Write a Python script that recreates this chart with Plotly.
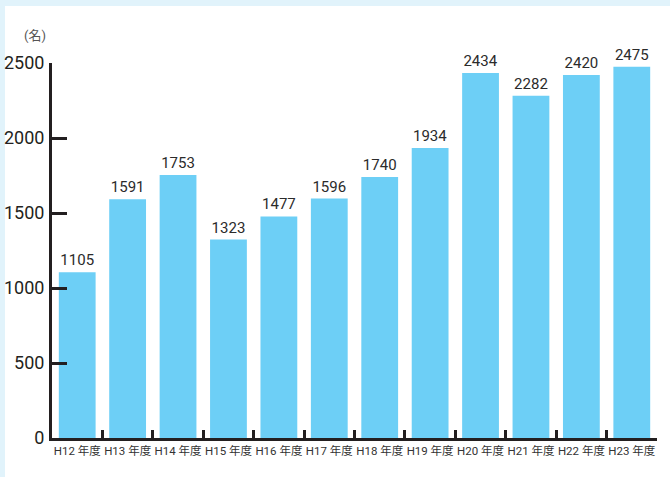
import plotly.graph_objects as go

categories = ["H12 年度", "H13 年度", "H14 年度", "H15 年度", "H16 年度", "H17 年度",
              "H18 年度", "H19 年度", "H20 年度", "H21 年度", "H22 年度", "H23 年度"]
values = [1105, 1591, 1753, 1323, 1477, 1596, 1740, 1934, 2434, 2282, 2420, 2475]
y_ticks = [0, 500, 1000, 1500, 2000, 2500]
unit_label = "(名)"

W, H = 670, 477
L, R, T, B = 52, 13, 63, 39
pw, ph = W - L - R, H - T - B

font_family = "Roboto, Noto Sans CJK JP, sans-serif"

fig = go.Figure()
fig.add_trace(go.Bar(
    x=categories, y=values,
    marker=dict(color="#6dcff6", line=dict(width=0)),
    text=[str(v) for v in values],
    textposition="outside",
    textfont=dict(size=15, color="#2b2b2b", family=font_family),
    cliponaxis=False,
))

fig.update_layout(
    width=W, height=H,
    margin=dict(l=L, r=R, t=T, b=B, pad=0),
    paper_bgcolor="#e1f3fb",
    plot_bgcolor="rgba(0,0,0,0)",
    bargap=0.27,
    showlegend=False,
    font=dict(family=font_family, color="#231f20"),
    xaxis=dict(
        showline=True, linecolor="#231f20", linewidth=3,
        ticks="inside", ticklen=8, tickwidth=3, tickcolor="#231f20",
        tickson="boundaries", tickangle=0, automargin=False,
        tickfont=dict(size=11.5, color="#333333", family=font_family),
        showgrid=False, zeroline=False, fixedrange=True,
    ),
    yaxis=dict(
        range=[0, 2500],
        tickvals=y_ticks, automargin=False,
        showline=True, linecolor="#231f20", linewidth=3,
        ticks="inside", ticklen=15, tickwidth=3, tickcolor="#231f20",
        tickfont=dict(size=18, color="#231f20", family=font_family),
        showgrid=False, zeroline=False, fixedrange=True,
        ticklabelstandoff=1,
    ),
    shapes=[dict(
        type="rect", xref="paper", yref="paper", layer="below",
        x0=(5 - L) / pw, x1=(W + 5 - L) / pw,
        y0=-(B + 5) / ph, y1=(438 - 6) / ph,
        fillcolor="white", line=dict(width=0),
    )],
    annotations=[dict(
        text=unit_label, xref="paper", yref="paper",
        x=(35 - L) / pw, y=(438 - 35) / ph,
        xanchor="center", yanchor="middle", showarrow=False,
        font=dict(size=13, color="#555555", family=font_family),
    )],
)

fig.write_html(
    "out.html",
    config={"displayModeBar": False},
    post_script="document.body.style.margin='0';document.body.style.overflow='hidden';document.body.style.background='#e1f3fb';",
)
